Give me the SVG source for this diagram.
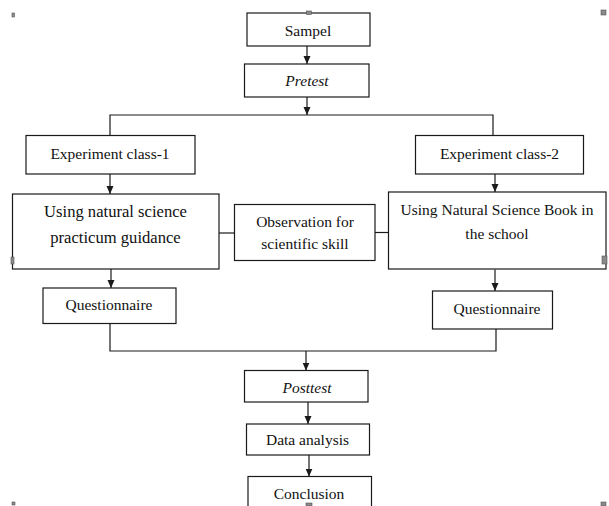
<svg xmlns="http://www.w3.org/2000/svg" width="609" height="506" viewBox="0 0 609 506">
<defs>
<marker id="ah" markerUnits="userSpaceOnUse" markerWidth="8" markerHeight="8" refX="8" refY="3.5" orient="auto"><path d="M0,0 L8,3.5 L0,7 z" fill="#1a1a1a"/></marker>
<style>
.box{fill:#fff;stroke:#1a1a1a;stroke-width:1.2}
.t{font-family:"Liberation Serif","Times New Roman",serif;font-size:15.5px;fill:#111;text-anchor:middle}
.big{font-size:16.6px}
.i{font-style:italic}
.c{fill:none;stroke:#1a1a1a;stroke-width:1.2}
.a{marker-end:url(#ah)}
.h{fill:#8a8a8a;stroke:#555;stroke-width:0.6}
</style>
</defs>
<rect width="609" height="506" fill="#fff"/>
<g id="connectors">
<line class="c a" x1="307" y1="46" x2="307" y2="64"/>
<line class="c a" x1="307" y1="97" x2="307" y2="115"/>
<polyline class="c" points="110,135.5 110,115 493,115 493,135.5"/>
<line class="c a" x1="110" y1="174" x2="110" y2="194"/>
<line class="c a" x1="495" y1="174" x2="495" y2="192"/>
<line class="c" x1="219" y1="233" x2="234.5" y2="233"/>
<line class="c" x1="375" y1="232.5" x2="388.5" y2="232.5"/>
<line class="c a" x1="111" y1="269" x2="111" y2="288"/>
<line class="c a" x1="495" y1="269.5" x2="495" y2="291"/>
<polyline class="c" points="110,323.5 110,351 496,351 496,329"/>
<line class="c a" x1="306" y1="351" x2="306" y2="370.5"/>
<line class="c a" x1="308" y1="402" x2="308" y2="424"/>
<line class="c a" x1="309" y1="455" x2="309" y2="476.5"/>
</g>
<g id="sampel"><rect class="box" x="247" y="13" width="123" height="33"/><text class="t" x="308" y="35.5">Sampel</text></g>
<g id="pretest"><rect class="box" x="244.5" y="64" width="124.5" height="33"/><text class="t i" x="307" y="85.5">Pretest</text></g>
<g id="exp1"><rect class="box" x="26" y="135.5" width="169" height="38.5"/><text class="t" x="110" y="158.5">Experiment class-1</text></g>
<g id="exp2"><rect class="box" x="415.5" y="135.5" width="168" height="38.5"/><text class="t" x="499.5" y="158.5">Experiment class-2</text></g>
<g id="using1"><rect class="box" x="12.5" y="194" width="206.5" height="75"/><text class="t big" x="115.5" y="217">Using natural science</text><text class="t big" x="115.5" y="242.5">practicum guidance</text></g>
<g id="observation"><rect class="box" x="234.5" y="204.5" width="140.5" height="56"/><text class="t" x="305" y="227">Observation for</text><text class="t" x="305" y="248.5">scientific skill</text></g>
<g id="using2"><rect class="box" x="388.5" y="192" width="217.5" height="77"/><text class="t" x="497" y="215">Using Natural Science Book in</text><text class="t" x="497" y="238.5">the school</text></g>
<g id="questionnaire1"><rect class="box" x="43" y="288" width="133" height="35.5"/><text class="t" x="109" y="309.5">Questionnaire</text></g>
<g id="questionnaire2"><rect class="box" x="432.5" y="291" width="120" height="38"/><text class="t" x="497" y="313.5">Questionnaire</text></g>
<g id="posttest"><rect class="box" x="244.5" y="370.5" width="123.5" height="31.5"/><text class="t i" x="307" y="393">Posttest</text></g>
<g id="data"><rect class="box" x="246.5" y="424" width="123" height="31"/><text class="t" x="307.5" y="445">Data analysis</text></g>
<g id="conclusion"><rect class="box" x="248" y="476.5" width="123.5" height="40"/><text class="t" x="309" y="498.5">Conclusion</text></g>
<g id="handles">
<rect class="h" x="12" y="13" width="2.5" height="4"/>
<rect class="h" x="306.5" y="11" width="5" height="3.5"/>
<rect class="h" x="601" y="10" width="5" height="5"/>
<rect class="h" x="11" y="257" width="3" height="7"/>
<rect class="h" x="602" y="256" width="5" height="8"/>
<rect class="h" x="12" y="502" width="3" height="3"/>
<rect class="h" x="306" y="503" width="6" height="3"/>
<rect class="h" x="601" y="502" width="5" height="4"/>
</g>
</svg>
